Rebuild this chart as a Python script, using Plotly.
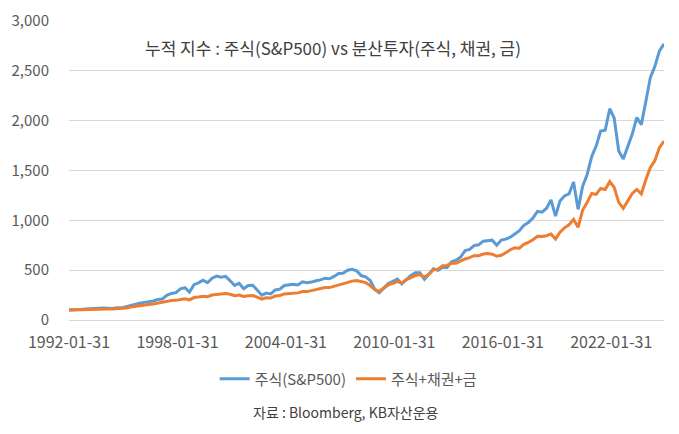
import pandas as pd
import plotly.graph_objs as go

#==================================================================================
# Global variables
blue_color = '#5b9bd5'      # S&P500 line
orange_color = '#ed7d31'    # mixed portfolio line
text_color = '#595959'
grid_color = '#d9d9d9'
font_name = 'Noto Sans CJK KR'

#----------------------------------------------------------------------------------
# Data (quarter ends; start = 100 at 1992-01-31)
dates = ['1992-01-31'] + [d.strftime('%Y-%m-%d') for d in pd.date_range('1992-03-31', '2024-12-31', freq='QE')]

sp500 = [
    100, 99.4, 101.2, 104.4, 109.6,
    114.4, 114.8, 117.8, 120.6,
    116.0, 116.4, 122.1, 122.1,
    134.0, 146.7, 158.4, 168.1,
    177.0, 184.7, 190.2, 205.8,
    211.3, 248.1, 266.7, 274.6,
    313.2, 323.7, 280.0, 354.2,
    372.3, 398.9, 374.3, 420.0,
    441.0, 430.0, 438.0, 393.0,
    346.5, 367.2, 313.2, 346.9,
    348.0, 301.2, 249.1, 269.9,
    261.0, 301.1, 308.9, 346.3,
    351.8, 357.8, 350.9, 383.0,
    374.9, 380.3, 394.1, 402.5,
    419.4, 413.6, 436.9, 466.3,
    469.6, 499.1, 509.4, 492.5,
    445.9, 433.7, 396.9, 308.9,
    274.2, 317.5, 366.9, 389.0,
    409.9, 363.1, 404.0, 447.3,
    473.8, 474.5, 408.5, 456.2,
    513.4, 498.9, 530.1, 527.5,
    583.1, 599.6, 631.0, 696.8,
    709.0, 746.1, 754.1, 791.2,
    798.7, 800.9, 749.1, 801.5,
    811.7, 831.2, 863.0, 895.4,
    949.6, 978.8, 1022.4, 1090.3,
    1082.1, 1119.2, 1205.4, 1041.9,
    1195, 1245, 1265, 1385,
    1110, 1340, 1460, 1640,
    1745, 1895, 1905, 2120,
    2025, 1695, 1615, 1735,
    1865, 2030, 1960, 2195,
    2435, 2545, 2700, 2770,
]

mix = [
    100, 99, 102, 104, 106,
    109, 111, 114, 114,
    111, 110, 112, 112,
    121, 131, 139, 146,
    151, 156, 161, 170,
    176, 188, 195, 197,
    208, 213, 202, 225,
    230, 237, 233, 250,
    257, 258, 265, 258,
    244, 250, 236, 244,
    246, 230, 210, 222,
    220, 240, 246, 262,
    266, 268, 272, 285,
    285, 295, 305, 312,
    325, 325, 338, 352,
    360, 372, 390, 395,
    388, 375, 345, 305,
    288, 322, 352, 368,
    385, 372, 405, 425,
    445, 455, 430, 460,
    505, 510, 545, 548,
    572, 570, 595, 612,
    625, 645, 645, 662,
    668, 660, 640, 650,
    675, 705, 725, 720,
    760, 778, 805, 840,
    838, 845, 862, 812,
    880, 925, 955, 1010,
    930, 1100, 1180, 1270,
    1260, 1320, 1310, 1390,
    1330, 1180, 1120, 1190,
    1270, 1310, 1265, 1410,
    1530, 1600, 1730, 1795,
]

x_ticks = ['1992-01-31', '1998-01-31', '2004-01-31', '2010-01-31', '2016-01-31', '2022-01-31']
y_ticks = [0, 500, 1000, 1500, 2000, 2500, 3000]

#----------------------------------------------------------------------------------
trace0 = go.Scatter(
        x = dates,
        y = sp500,
        name = '주식(S&P500)',
        mode = 'lines',
        line = dict(color = blue_color, width = 3)
)

trace1 = go.Scatter(
        x = dates,
        y = mix,
        name = '주식+채권+금',
        mode = 'lines',
        line = dict(color = orange_color, width = 3)
)

layout = dict(
        width = 679,
        height = 434,
        margin = dict(l = 69, r = 15, t = 21, b = 114),
        paper_bgcolor = 'white',
        plot_bgcolor = 'white',
        font = dict(family = font_name, size = 15, color = text_color),
        showlegend = True,
        legend = dict(
                orientation = 'h',
                x = 0.47, xanchor = 'center',
                y = -0.197, yanchor = 'middle',
                font = dict(size = 15, color = text_color)),
        xaxis = dict(
                type = 'date',
                range = [dates[0], dates[-1]],
                tickvals = x_ticks,
                ticktext = x_ticks,
                showgrid = False,
                showline = True,
                linecolor = grid_color,
                ticks = 'outside',
                ticklen = 8,
                tickcolor = 'rgba(0,0,0,0)',
                automargin = False,
                tickfont = dict(size = 16, color = text_color)),
        yaxis = dict(
                range = [0, 3000],
                tickvals = y_ticks,
                tickformat = ',',
                showgrid = True,
                gridcolor = grid_color,
                zeroline = False,
                ticks = 'outside',
                ticklen = 16,
                tickcolor = 'rgba(0,0,0,0)',
                automargin = False,
                tickfont = dict(size = 15, color = text_color)),
        annotations = [
                dict(text = '누적 지수 : 주식(S&P500) vs 분산투자(주식, 채권, 금)',
                     xref = 'paper', yref = 'paper', x = 0.443, y = 0.913,
                     xanchor = 'center', yanchor = 'middle', showarrow = False,
                     font = dict(size = 17, color = '#404040')),
                dict(text = '자료 : Bloomberg, KB자산운용',
                     xref = 'paper', yref = 'paper', x = 0.4655, y = -0.308,
                     xanchor = 'center', yanchor = 'middle', showarrow = False,
                     font = dict(size = 14, color = '#404040')),
        ]
)

fig = go.Figure(data = [trace0, trace1], layout = layout)
# drop the default 8px page margin so the figure sits at the window's corner
fig.write_html('out.html', config = {'displayModeBar': False},
               post_script = "document.body.style.margin = '0px';")
